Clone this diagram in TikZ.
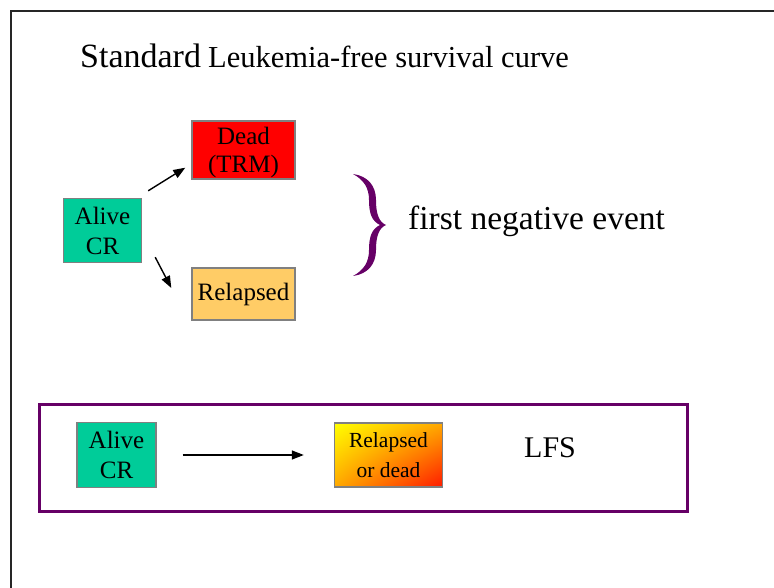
\documentclass[tikz,border=0pt]{standalone}
\usepackage{fontspec}
\setmainfont{Liberation Serif}
\usetikzlibrary{arrows.meta,shadings}

\definecolor{crgreen}{HTML}{00CC99}
\definecolor{trmred}{HTML}{FF0000}
\definecolor{relorange}{HTML}{FFCC66}
\definecolor{plum}{HTML}{660066}
\definecolor{boxgray}{HTML}{808080}
\definecolor{gradyellow}{HTML}{FFFF00}
\definecolor{gradorange}{HTML}{FFA800}
\definecolor{gradred}{HTML}{FF1A00}

\begin{document}
\begin{tikzpicture}[x=1pt,y=-1pt,
  box/.style={draw=boxgray, line width=1.4pt, align=center, inner sep=0pt},
  boxtext/.style={font=\fontsize{25}{30}\selectfont},
  flow/.style={-{Triangle[length=12pt,width=9pt]}, line width=1.4pt, black},
  plain/.style={inner sep=0pt, anchor=base west}]
\useasboundingbox (0,0) rectangle (774,588);

% page frame (top and left edges)
\draw[line width=2pt, black!85] (11,588) -- (11,11) -- (774,11);

% heading
\node[plain, font=\fontsize{34}{40}\selectfont] (std) at (80,68) {Standard};
\node[plain, font=\fontsize{30.5}{36}\selectfont] (lfsc) at (208,68) {Leukemia-free survival curve};

% competing events
\node[box, boxtext, fill=crgreen, minimum width=78pt, minimum height=64pt] (alive) at (102.5,230.5) {Alive\\CR};
\node[box, font=\fontsize{25}{28}\selectfont, text height=51pt, text depth=5pt, fill=trmred, minimum width=103pt, minimum height=58pt] (dead) at (243.5,150) {Dead\\(TRM)};
\node[box, boxtext, fill=relorange, minimum width=103pt, minimum height=52pt] (rel) at (243.5,294) {Relapsed};

\draw[flow] ([shift={(6,-7)}]alive.north east) -- ([shift={(-6,-12)}]dead.south west);
\draw[flow] ([shift={(13,-6)}]alive.south east) -- ([shift={(-20,-6)}]rel.west);

% brace grouping both outcomes
\fill[plum] (353,174) .. controls (368,176) and (376,186) .. (376,200)
  .. controls (376,214) and (379,222) .. (386,225)
  .. controls (379,228) and (376,236) .. (376,250)
  .. controls (376,264) and (368,274) .. (353,276)
  .. controls (364,270) and (369,262) .. (369,250)
  .. controls (369,236) and (372,229) .. (380,225)
  .. controls (372,221) and (369,214) .. (369,200)
  .. controls (369,188) and (364,180) .. (353,174) -- cycle;
\node[plain, font=\fontsize{33.5}{40}\selectfont] (fne) at (408,230) {first negative event};

% composite endpoint
\node[draw=plum, line width=3pt, minimum width=648pt, minimum height=107pt, inner sep=0pt] (frame) at (363,457.5) {};
\node[box, boxtext, fill=crgreen, minimum width=79pt, minimum height=65pt] (alive2) at (116.5,455) {Alive\\CR};
\node[box, font=\fontsize{21.5}{30}\selectfont, minimum width=108pt, minimum height=64pt,
  upper left=gradyellow, upper right=gradorange, lower left=gradorange, lower right=gradred] (rod) at (388.5,455) {Relapsed\\or dead};
\draw[flow, shorten <=26pt, shorten >=30pt] (alive2.east) -- (rod.west);
\node[plain, font=\fontsize{30}{36}\selectfont] (lfs) at (524,457) {LFS};
\end{tikzpicture}
\end{document}
